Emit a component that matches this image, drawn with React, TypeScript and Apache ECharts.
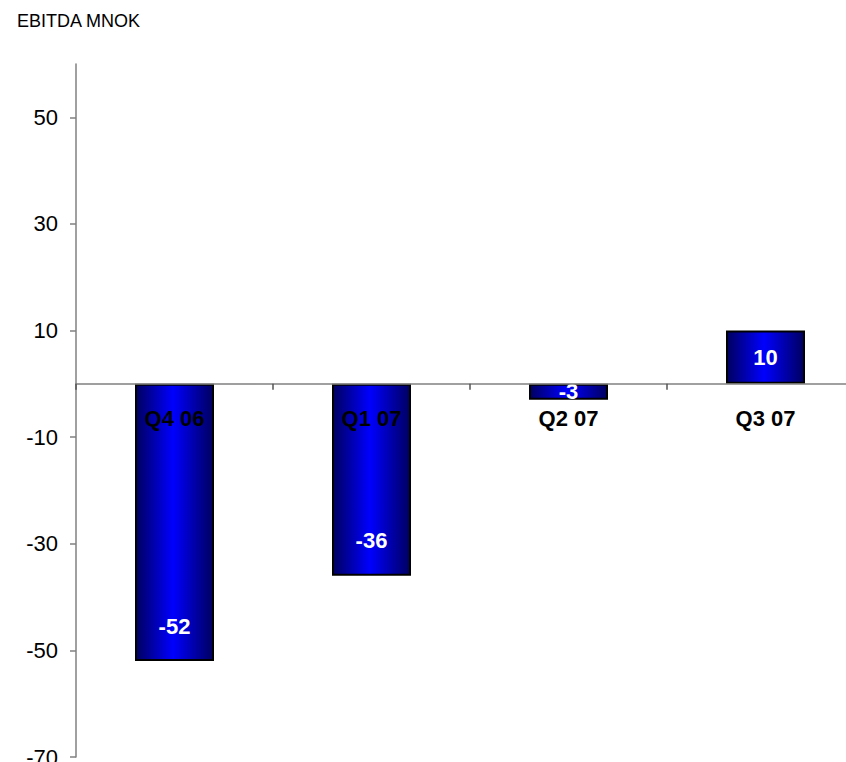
import React, { useEffect, useRef } from "react";
import * as echarts from "echarts";

const categories = ["Q4 06", "Q1 07", "Q2 07", "Q3 07"];
const ebitda = [-52, -36, -3, 10];
const yTicks = [-70, -50, -30, -10, 10, 30, 50];
const titleText = "EBITDA MNOK";

export default function App() {
  const ref = useRef<HTMLDivElement>(null);
  useEffect(() => {
    if (!ref.current) return;
    const chart = echarts.init(ref.current, null, { renderer: "svg" });
    const font = "Liberation Sans, Arial, sans-serif";
    const yMin = -70;
    const yMax = 60;
    const gridTop = 64;
    const gridHeight = 693;
    const zeroOffset = -(gridHeight * (0 - yMin)) / (yMax - yMin);
    chart.setOption({
      animation: false,
      backgroundColor: "#ffffff",
      title: {
        text: titleText,
        left: 17,
        top: 12,
        padding: 0,
        textStyle: { fontSize: 18, fontWeight: "normal", color: "#000", fontFamily: font },
      },
      grid: {
        left: 76,
        top: gridTop,
        width: 788,
        height: gridHeight,
        containLabel: false,
        outerBoundsMode: "none",
      },
      xAxis: {
        type: "category",
        data: categories,
        z: 5,
        offset: zeroOffset,
        axisLine: { onZero: false, lineStyle: { color: "#808080", width: 1.5 } },
        axisTick: { show: true, length: 6, lineStyle: { color: "#555", width: 1.5 } },
        axisLabel: {
          margin: 24,
          fontSize: 22,
          fontWeight: "bold",
          color: "#000",
          fontFamily: font,
        },
        splitLine: { show: false },
      },
      yAxis: {
        type: "value",
        min: yMin,
        max: yMax,
        axisLine: { show: true, lineStyle: { color: "#808080", width: 1.5 } },
        axisTick: { show: true, length: 6, customValues: yTicks, lineStyle: { color: "#808080", width: 1.5 } },
        axisLabel: {
          customValues: yTicks,
          margin: 18,
          fontSize: 22,
          color: "#000",
          fontFamily: font,
        },
        splitLine: { show: false },
      },
      series: [
        {
          type: "bar",
          data: ebitda.map((v) => ({
            value: v,
            label: {
              position: v < -10 ? "insideBottom" : "inside",
              distance: 24,
            },
          })),
          barWidth: 79,
          z: 2,
          itemStyle: {
            borderColor: "#000",
            borderWidth: 2,
            color: {
              type: "linear",
              x: 0,
              y: 0,
              x2: 1,
              y2: 0,
              colorStops: [
                { offset: 0, color: "#000060" },
                { offset: 0.48, color: "#0000ff" },
                { offset: 1, color: "#000060" },
              ],
            },
          },
          label: {
            show: true,
            color: "#fff",
            fontSize: 22,
            fontWeight: "bold",
            fontFamily: font,
          },
        },
      ],
    });
    return () => chart.dispose();
  }, []);
  return (
    <div
      ref={ref}
      style={{ position: "fixed", left: 0, top: 0, width: 846, height: 762 }}
    />
  );
}
